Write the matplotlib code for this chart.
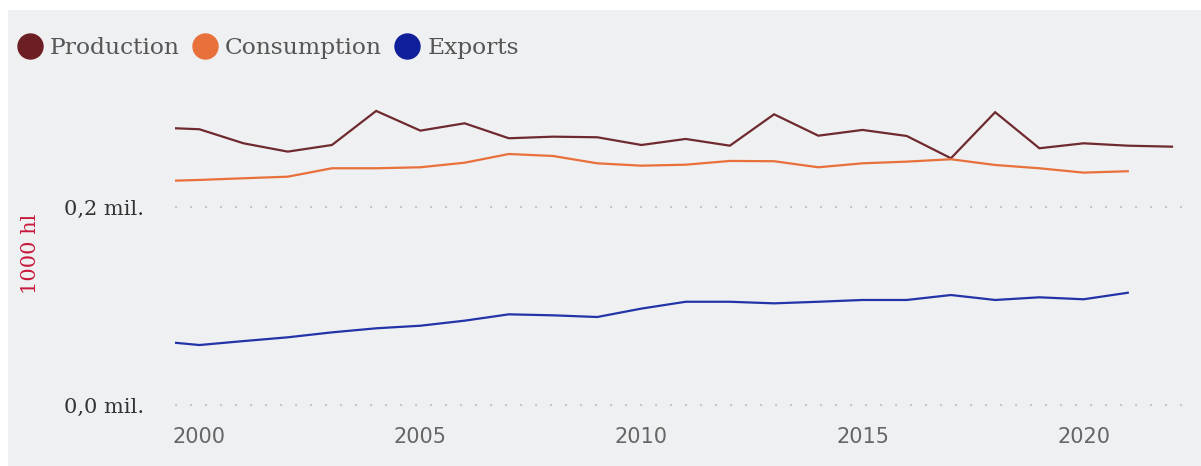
import matplotlib
matplotlib.use('Agg')
import matplotlib.pyplot as plt
import matplotlib.lines as mlines
from matplotlib.patches import Rectangle

# Data (1000 hl)
years = list(range(1999, 2023))
production = [280300, 278500, 264300, 255900, 262600, 297000, 277100, 284500,
              269400, 271000, 270400, 262600, 268700, 261900, 293600, 272000,
              277800, 271700, 249200, 295700, 259300, 264300, 261900, 260900]
consumption = [226000, 227300, 229000, 230600, 239100, 239100, 240100, 244700,
               253500, 251500, 244100, 241700, 242700, 246500, 246200, 240100,
               244100, 245800, 248200, 242400, 239100, 234700, 236100]
exports = [64800, 60600, 64600, 68400, 73400, 77500, 80100, 85200,
           91600, 90600, 88900, 97400, 104300, 104300, 102700, 104300,
           106100, 106100, 111100, 106100, 108800, 106800, 113400]
series_names = ['Production', 'Consumption', 'Exports']
line_colors = ['#6e2a2f', '#e8703a', '#2333a8']
legend_colors = ['#6b1f24', '#e8703a', '#0f1f9a']
x_ticks = [2000, 2005, 2010, 2015, 2020]
y_ticks = [0, 200000]
y_tick_labels = ['0,0 mil.', '0,2 mil.']

W, H = 1201, 466
bg = '#eff0f2'

fig = plt.figure(figsize=(W / 100, H / 100), dpi=100, facecolor='white')
fig.patches.append(Rectangle((8 / W, 0), 1 - 8 / W, 456 / H, transform=fig.transFigure,
                             facecolor=bg, edgecolor='none', zorder=-10))

# axes placement in pixels
left, right, top, bottom = 175, 1195, 103, 410
ax = fig.add_axes((left / W, 1 - bottom / H, (right - left) / W, (bottom - top) / H))
ax.set_facecolor(bg)
ax.patch.set_alpha(0)

data = [production, consumption, exports]
for vals, col in zip(data, line_colors):
    ax.plot(years[:len(vals)], vals, color=col, lw=1.6, solid_joinstyle='miter')

for yv in y_ticks:
    ax.axhline(yv, color='#c4c6ca', lw=1.5, linestyle=(0, (1, 6.2)), zorder=0, clip_on=False)

ax.set_xlim(1999.45, 2022.52)
ax.set_ylim(-5000, 305000)
for s in ax.spines.values():
    s.set_visible(False)

ax.set_xticks(x_ticks)
ax.set_xticklabels([str(x) for x in x_ticks], fontsize=15, color='#666666', family='DejaVu Sans')
ax.set_yticks(y_ticks)
ax.set_yticklabels(y_tick_labels, fontsize=15, color='#333333', family='DejaVu Serif')
ax.tick_params(axis='both', length=0)
ax.tick_params(axis='x', pad=12)
ax.tick_params(axis='y', pad=22)

fig.text(30 / W, 1 - 254 / H, '1000 hl', rotation=90, color='#c8193c', fontsize=15,
         family='DejaVu Serif', ha='center', va='center')

handles = [mlines.Line2D([], [], linestyle='none', marker='o', markersize=18,
                         markerfacecolor=c, markeredgecolor=c, label=n)
           for n, c in zip(series_names, legend_colors)]
fig.legend(handles=handles, loc='center left', bbox_to_anchor=(18 / W, 1 - 48 / H),
           ncol=3, frameon=False, handlelength=1.0, handletextpad=0.35,
           columnspacing=0.6, borderaxespad=0, borderpad=0,
           prop={'family': 'DejaVu Serif', 'size': 16.8}, labelcolor='#555555')

fig.savefig('out.png', dpi=100, facecolor='white')
